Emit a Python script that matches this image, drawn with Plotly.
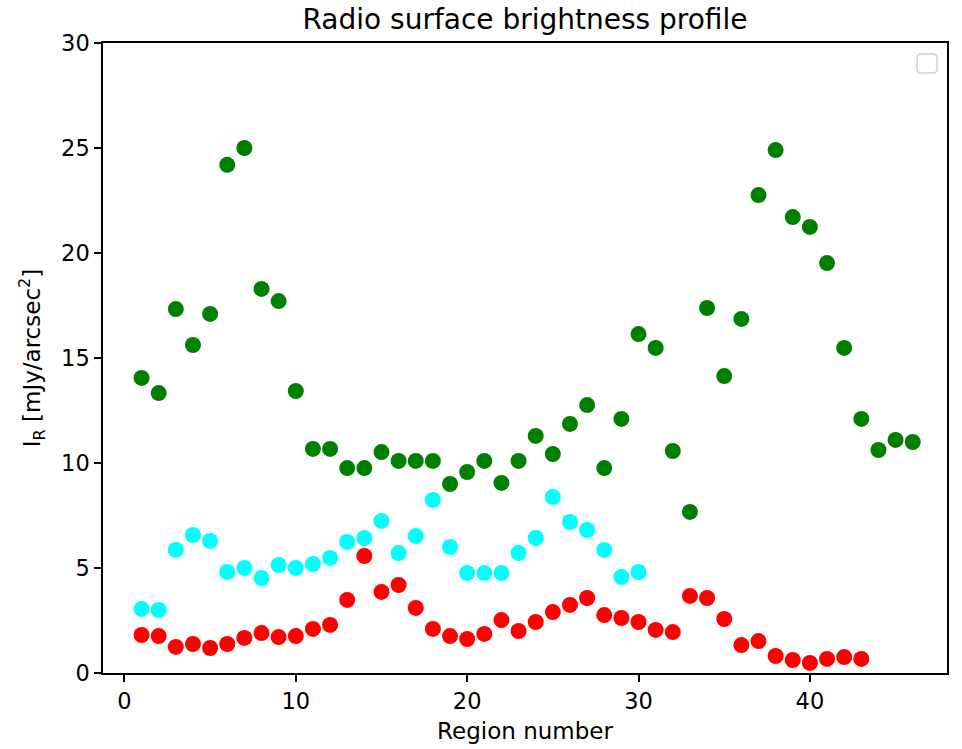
import plotly.graph_objects as go

green_y = [14.05, 13.33, 17.33, 15.62, 17.1, 24.2, 25.0, 18.29, 17.71, 13.43,
           10.67, 10.67, 9.76, 9.76, 10.52, 10.1, 10.1, 10.1, 9.0, 9.57,
           10.1, 9.05, 10.1, 11.29, 10.43, 11.86, 12.76, 9.76, 12.1, 16.14,
           15.48, 10.57, 7.67, 17.38, 14.14, 16.86, 22.76, 24.9, 21.71, 21.24,
           19.52, 15.48, 12.1, 10.62, 11.1, 11.0]
cyan_y = [3.05, 3.0, 5.86, 6.57, 6.29, 4.81, 5.0, 4.52, 5.14, 5.0,
          5.19, 5.48, 6.24, 6.43, 7.24, 5.71, 6.52, 8.24, 6.0, 4.76,
          4.76, 4.76, 5.71, 6.43, 8.38, 7.19, 6.81, 5.86, 4.57, 4.81]
red_y = [1.81, 1.76, 1.24, 1.38, 1.19, 1.38, 1.67, 1.9, 1.71, 1.76,
         2.1, 2.29, 3.48, 5.57, 3.86, 4.19, 3.1, 2.1, 1.76, 1.62,
         1.86, 2.52, 2.0, 2.43, 2.9, 3.24, 3.57, 2.76, 2.62, 2.43,
         2.05, 1.95, 3.67, 3.57, 2.57, 1.33, 1.52, 0.81, 0.62, 0.48,
         0.67, 0.76, 0.67]

green_x = list(range(1, len(green_y) + 1))
cyan_x = list(range(1, len(cyan_y) + 1))
red_x = list(range(1, len(red_y) + 1))

font = "DejaVu Sans"
fig = go.Figure()
for xs, ys, col in [(green_x, green_y, "green"), (cyan_x, cyan_y, "cyan"), (red_x, red_y, "red")]:
    fig.add_trace(go.Scatter(x=xs, y=ys, mode="markers",
                             marker=dict(color=col, size=16, line=dict(width=0)),
                             showlegend=False))

axis_common = dict(showline=True, linecolor="black", linewidth=1.5, mirror=True,
                   ticks="outside", ticklen=7, tickwidth=1.5, tickcolor="black",
                   showgrid=False, zeroline=False, automargin=False,
                   tickfont=dict(family=font, size=22.5, color="black"))

fig.update_layout(
    width=962, height=749,
    margin=dict(l=103, r=15, t=43, b=76),
    plot_bgcolor="white", paper_bgcolor="white",
    title=dict(text="Radio surface brightness profile", x=0.5, xref="paper",
               y=1 - 19 / 749, yanchor="middle",
               font=dict(family=font, size=28, color="black")),
    xaxis=dict(range=[-1.25, 48.0], tickvals=[0, 10, 20, 30, 40],
               title=dict(text="Region number", font=dict(family=font, size=23, color="black"), standoff=10),
               **axis_common),
    yaxis=dict(range=[0, 30], tickvals=[0, 5, 10, 15, 20, 25, 30],
               title=dict(text="I<sub>R</sub> [mJy/arcsec<sup>2</sup>]", font=dict(family=font, size=23, color="black"), standoff=14),
               **axis_common),
    showlegend=False,
)

# empty legend frame (paper coords)
def px(xp):
    return (xp - 103) / 844
def py(yp):
    return (673 - yp) / 630

x0, x1, y0, y1, r = 917, 937, 54, 73, 4
path = (f"M {px(x0 + r)},{py(y0)} L {px(x1 - r)},{py(y0)} Q {px(x1)},{py(y0)} {px(x1)},{py(y0 + r)} "
        f"L {px(x1)},{py(y1 - r)} Q {px(x1)},{py(y1)} {px(x1 - r)},{py(y1)} "
        f"L {px(x0 + r)},{py(y1)} Q {px(x0)},{py(y1)} {px(x0)},{py(y1 - r)} "
        f"L {px(x0)},{py(y0 + r)} Q {px(x0)},{py(y0)} {px(x0 + r)},{py(y0)} Z")
fig.add_shape(type="path", xref="paper", yref="paper", path=path,
              line=dict(color="#d0d0d0", width=1.5), fillcolor="rgba(255,255,255,0.8)")

fig.write_html("out.html")
